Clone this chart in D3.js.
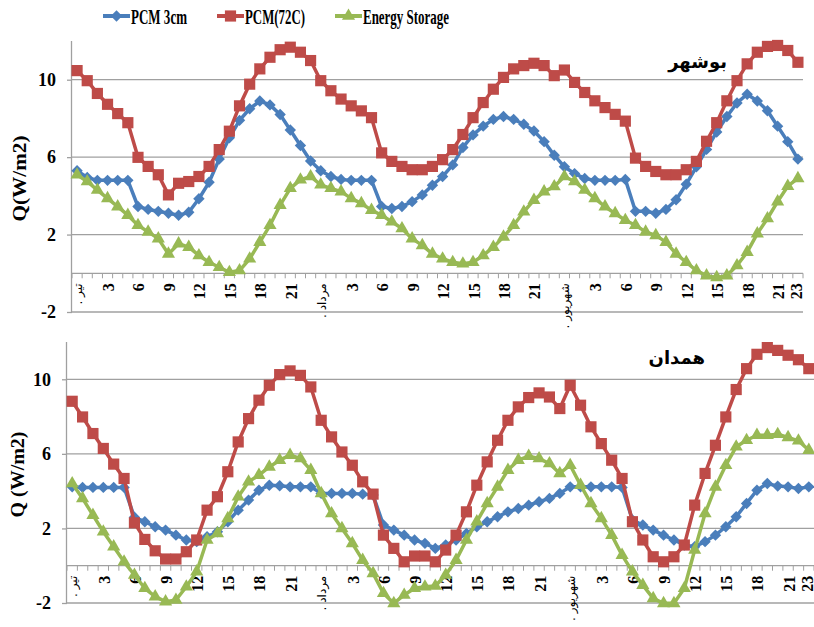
<!DOCTYPE html>
<html>
<head>
<meta charset="utf-8">
<script src="https://cdn.jsdelivr.net/npm/d3@7.9.0/dist/d3.min.js"></script>
<style>
  body { margin: 0; background: #fff; }
  svg { display: block; }
</style>
</head>
<body>
<svg id="chart" width="814" height="627"></svg>
<script>
// series names / colours
const seriesNames = ['PCM 3cm', 'PCM(72C)', 'Energy Storage'];
const seriesColors = ['#4a7ebb', '#be4b48', '#98b954'];

// x tick labels (index -> text), 72 hourly points over three months
const tickIndex = [0, 3, 6, 9, 12, 15, 18, 21, 24, 27, 30, 33, 36, 39, 42, 45, 48, 51, 54, 57, 60, 63, 66, 69, 71];
const tickText = ['تیر', '3', '6', '9', '12', '15', '18', '21',
                  'مرداد', '3', '6', '9', '12', '15', '18', '21',
                  'شهریور', '3', '6', '9', '12', '15', '18', '21', '23'];
const monthLabels = ['تیر', 'مرداد', 'شهریور'];

const yTicks = [-2, 2, 6, 10];

// Bushehr
const bushehrPcm3 = [
  5.3, 4.95, 4.8, 4.8, 4.8, 4.8, 3.45, 3.3, 3.2, 3.1, 3.0, 3.15,
  3.85, 4.7, 5.9, 7.0, 7.9, 8.5, 8.9, 8.7, 8.2, 7.4, 6.6, 5.8,
  5.3, 5.0, 4.85, 4.8, 4.8, 4.8, 3.45, 3.35, 3.45, 3.7, 4.05, 4.55,
  5.0, 5.6, 6.5, 7.15, 7.6, 7.95, 8.1, 7.95, 7.7, 7.35, 6.8, 6.1,
  5.5, 5.15, 4.9, 4.8, 4.8, 4.8, 4.85, 3.2, 3.2, 3.1, 3.3, 3.8,
  4.6, 5.5, 6.4, 7.3, 8.1, 8.8, 9.25, 8.9, 8.4, 7.6, 6.8, 5.9
];
const bushehrPcm72 = [
  10.47, 9.95, 9.29, 8.73, 8.25, 7.78, 5.99, 5.52, 5.09, 4.05, 4.65, 4.74,
  5.0, 5.52, 6.39, 7.34, 8.65, 9.77, 10.56, 11.16, 11.55, 11.68, 11.42, 10.99,
  9.95, 9.43, 9.0, 8.65, 8.39, 8.04, 6.22, 5.78, 5.52, 5.35, 5.35, 5.52,
  5.87, 6.39, 7.17, 8.04, 8.82, 9.51, 10.12, 10.56, 10.73, 10.85, 10.73, 10.21,
  10.5, 9.86, 9.34, 8.91, 8.56, 8.21, 7.86, 5.95, 5.52, 5.26, 5.09, 5.09,
  5.35, 5.78, 6.82, 7.78, 8.91, 9.95, 10.82, 11.42, 11.72, 11.77, 11.51, 10.9
];
const bushehrStorage = [
  5.09, 4.74, 4.3, 3.87, 3.44, 3.0, 2.48, 2.14, 1.79, 1.0, 1.53, 1.35,
  0.92, 0.57, 0.31, 0.05, 0.14, 0.75, 1.61, 2.48, 3.52, 4.39, 4.83, 5.0,
  4.57, 4.39, 4.22, 3.87, 3.61, 3.26, 3.0, 2.66, 2.31, 1.79, 1.44, 1.0,
  0.75, 0.57, 0.49, 0.57, 0.92, 1.35, 1.88, 2.48, 3.18, 3.78, 4.22, 4.48,
  5.0, 4.74, 4.3, 3.87, 3.44, 3.09, 2.74, 2.48, 2.14, 1.96, 1.61, 1.0,
  0.57, 0.14, -0.12, -0.21, -0.12, 0.4, 1.09, 2.05, 2.83, 3.7, 4.5, 4.9
];

// Hamedan
const hamedanPcm3 = [
  4.23, 4.2, 4.2, 4.2, 4.2, 4.2, 2.6, 2.36, 2.09, 1.91, 1.64, 1.38,
  1.29, 1.55, 1.82, 2.36, 2.98, 3.52, 4.05, 4.32, 4.29, 4.23, 4.23, 4.23,
  3.88, 3.88, 3.88, 3.88, 3.84, 3.79, 2.18, 1.91, 1.64, 1.38, 1.2, 0.93,
  1.11, 1.38, 1.73, 2.09, 2.36, 2.63, 2.89, 3.07, 3.25, 3.43, 3.61, 3.88,
  4.23, 4.23, 4.23, 4.23, 4.23, 4.2, 2.45, 2.18, 1.91, 1.64, 1.38, 1.11,
  1.02, 1.29, 1.64, 2.09, 2.63, 3.34, 4.05, 4.41, 4.27, 4.23, 4.14, 4.23
];
const hamedanPcm72 = [
  8.82, 7.98, 7.09, 6.29, 5.45, 4.68, 2.3, 1.41, 0.8, 0.36, 0.36, 0.75,
  1.38, 2.98, 3.7, 5.04, 6.64, 7.89, 8.88, 9.68, 10.25, 10.45, 10.21, 9.59,
  7.8, 6.91, 6.1, 5.39, 4.5, 3.84, 1.64, 0.93, 0.21, 0.52, 0.52, 0.21,
  0.84, 1.64, 2.89, 4.32, 5.57, 6.73, 7.8, 8.52, 9.02, 9.27, 9.05, 8.43,
  9.68, 8.61, 7.45, 6.55, 5.66, 4.68, 2.36, 1.38, 0.48, 0.21, 0.48, 1.11,
  3.25, 4.95, 6.46, 7.98, 9.45, 10.57, 11.34, 11.7, 11.55, 11.29, 11.05, 10.57
];
const hamedanStorage = [
  4.41, 3.61, 2.71, 1.82, 1.02, 0.21, -0.5, -1.21, -1.66, -1.93, -1.84, -1.13,
  -0.32, 1.38, 1.73, 2.54, 3.7, 4.5, 4.86, 5.3, 5.66, 5.93, 5.75, 5.13,
  3.88, 2.8, 2.0, 1.2, 0.3, -0.41, -1.48, -2.02, -1.57, -1.21, -1.13, -1.09,
  -0.5, 0.3, 1.38, 2.36, 3.34, 4.23, 5.13, 5.66, 5.88, 5.75, 5.48, 4.95,
  5.39, 4.32, 3.34, 2.54, 1.64, 0.57, -0.32, -1.04, -1.75, -2.02, -2.02, -1.21,
  0.84, 2.8, 4.23, 5.39, 6.38, 6.73, 7.0, 7.0, 7.05, 6.88, 6.7, 6.2
];

const svg = d3.select('#chart');
const serif = '"Liberation Serif", "Times New Roman", serif';
const arabic = '"DejaVu Sans", sans-serif';
const gray = '#a0a0a0';

// diamond as a square turned 45deg (excel style)
const diamond = {
  draw(ctx, size) {
    const r = Math.sqrt(size) / 2;
    ctx.moveTo(0, -r); ctx.lineTo(r, 0); ctx.lineTo(0, r); ctx.lineTo(-r, 0); ctx.closePath();
  }
};
const symbols = [
  d3.symbol(diamond, 130),
  d3.symbol(d3.symbolSquare, 125),
  d3.symbol(d3.symbolTriangle, 75)
];

function drawPanel(cfg) {
  const g = svg.append('g');
  const idx = d3.range(cfg.series[0].length);

  const x = d3.scaleBand().domain(idx).range([cfg.x0, cfg.x1]);
  const y = d3.scaleLinear().domain([-2, 12]).range([cfg.yBottom, cfg.yTop]);
  const cx = i => x(i) + x.bandwidth() / 2;

  // gridlines + left axis
  const yAxis = d3.axisLeft(y).tickValues(yTicks).tickSize(5).tickFormat(d => String(d));
  g.append('g')
    .selectAll('line.grid')
    .data(yTicks)
    .join('line')
    .attr('x1', cfg.x0).attr('x2', cfg.x1)
    .attr('y1', d => y(d)).attr('y2', d => y(d))
    .attr('stroke', gray).attr('stroke-width', 1.3);

  const ya = g.append('g').attr('transform', `translate(${cfg.x0},0)`).call(yAxis);
  ya.select('.domain').attr('stroke', gray).attr('stroke-width', 1.3)
    .attr('d', `M-0.5,${cfg.yTop}V${cfg.yBottom}`);
  ya.selectAll('line').attr('stroke', gray).attr('stroke-width', 1.3);
  ya.selectAll('text')
    .attr('x', -16)
    .style('font-family', serif).style('font-weight', 'bold')
    .style('font-size', '18px').attr('fill', '#000');

  // axis at zero with a tick between every hour
  const y0 = y(0);
  g.append('line')
    .attr('x1', cfg.x0).attr('x2', cfg.x1)
    .attr('y1', y0).attr('y2', y0)
    .attr('stroke', gray).attr('stroke-width', 1.3);
  g.append('g')
    .selectAll('line')
    .data(d3.range(idx.length + 1))
    .join('line')
    .attr('x1', i => i < idx.length ? x(i) : cfg.x1)
    .attr('x2', i => i < idx.length ? x(i) : cfg.x1)
    .attr('y1', y0).attr('y2', y0 + 5)
    .attr('stroke', gray).attr('stroke-width', 1);

  // rotated hour / month labels
  const isMonth = k => monthLabels.includes(tickText[k]);
  g.append('g')
    .selectAll('text')
    .data(tickIndex)
    .join('text')
    .attr('transform', d => `translate(${Math.min(cx(d) + 1, cfg.x1 - 7)},${y0 + 10}) rotate(-90)`)
    .attr('text-anchor', 'end')
    .attr('dominant-baseline', 'central')
    .style('font-family', (d, k) => isMonth(k) ? arabic : serif)
    .style('font-weight', (d, k) => isMonth(k) ? 'normal' : 'bold')
    .style('font-size', (d, k) => isMonth(k) ? '12px' : '16px')
    .text((d, k) => isMonth(k) ? '. ' + tickText[k] : tickText[k]);

  // series
  const line = d3.line().x((d, i) => cx(i)).y(d => y(d));
  cfg.series.forEach((vals, s) => {
    g.append('path')
      .datum(vals)
      .attr('d', line)
      .attr('fill', 'none')
      .attr('stroke', seriesColors[s])
      .attr('stroke-width', 3.5)
      .attr('stroke-linejoin', 'round');
    g.append('g')
      .selectAll('path')
      .data(vals)
      .join('path')
      .attr('transform', (d, i) => `translate(${cx(i)},${y(d)})`)
      .attr('d', symbols[s])
      .attr('fill', seriesColors[s]);
  });

  // city name
  g.append('text')
    .attr('x', cfg.titleX).attr('y', cfg.titleY)
    .attr('text-anchor', 'end')
    .style('font-family', arabic).style('font-weight', 'bold')
    .style('font-size', '18px')
    .text(cfg.title);

  // y title
  g.append('text')
    .attr('transform', `translate(${cfg.yTitleX},${(cfg.yTop + cfg.yBottom) / 2 + 2}) rotate(-90)`)
    .attr('text-anchor', 'middle')
    .attr('dominant-baseline', 'central')
    .attr('textLength', 86).attr('lengthAdjust', 'spacingAndGlyphs')
    .style('font-family', serif).style('font-weight', 'bold')
    .style('font-size', '19px')
    .text(cfg.yTitle);
}

function drawLegend() {
  const items = [
    { x: 103, w: 56 },
    { x: 217, w: 60 },
    { x: 335, w: 86 }
  ];
  const lg = svg.append('g');
  items.forEach((it, s) => {
    lg.append('line')
      .attr('x1', it.x).attr('x2', it.x + 27)
      .attr('y1', 16).attr('y2', 16)
      .attr('stroke', seriesColors[s]).attr('stroke-width', 4);
    lg.append('path')
      .attr('transform', `translate(${it.x + 13.5},16)`)
      .attr('d', symbols[s])
      .attr('fill', seriesColors[s]);
    lg.append('text')
      .attr('x', it.x + 28).attr('y', 17)
      .attr('dominant-baseline', 'central')
      .attr('textLength', it.w).attr('lengthAdjust', 'spacingAndGlyphs')
      .style('font-family', serif).style('font-weight', 'bold')
      .style('font-size', '21px')
      .text(seriesNames[s]);
  });
}

drawLegend();
drawPanel({
  x0: 72, x1: 803, yTop: 41, yBottom: 312,
  title: 'بوشهر', titleX: 727, titleY: 68,
  yTitle: 'Q(W/m2)', yTitleX: 19,
  series: [bushehrPcm3, bushehrPcm72, bushehrStorage]
});
drawPanel({
  x0: 67, x1: 814, yTop: 342, yBottom: 603,
  title: 'همدان', titleX: 705, titleY: 364,
  yTitle: 'Q (W/m2)', yTitleX: 17,
  series: [hamedanPcm3, hamedanPcm72, hamedanStorage]
});
</script>
</body>
</html>
